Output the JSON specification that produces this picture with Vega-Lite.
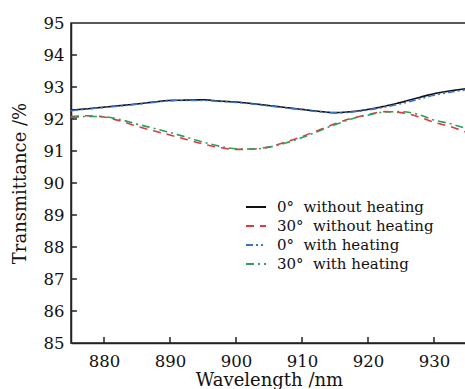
{
  "$schema": "https://vega.github.io/schema/vega-lite/v6.json",
  "width": 396,
  "height": 320,
  "autosize": "none",
  "padding": {"left": 71, "top": 23, "right": 0, "bottom": 46},
  "background": "white",
  "config": {
    "view": {"stroke": "#222", "strokeWidth": 1.5},
    "font": "DejaVu Serif",
    "axis": {"grid": false, "ticks": false, "domainColor": "#222", "domainWidth": 1.5, "labelColor": "#111", "titleColor": "#111", "labelFont": "DejaVu Serif", "titleFont": "DejaVu Serif", "labelFontSize": 16.5, "titleFontSize": 18, "titleFontWeight": "normal"}
  },
  "datasets": {
    "xticks": [{"v": 880}, {"v": 890}, {"v": 900}, {"v": 910}, {"v": 920}, {"v": 930}],
    "yticks": [{"v": 86}, {"v": 87}, {"v": 88}, {"v": 89}, {"v": 90}, {"v": 91}, {"v": 92}, {"v": 93}, {"v": 94}],
    "spec": [
      {"wl": 875, "t": 92.28, "s": "0°\u00a0\u00a0without heating"},
      {"wl": 877.5, "t": 92.32, "s": "0°\u00a0\u00a0without heating"},
      {"wl": 880, "t": 92.37, "s": "0°\u00a0\u00a0without heating"},
      {"wl": 882.5, "t": 92.42, "s": "0°\u00a0\u00a0without heating"},
      {"wl": 885, "t": 92.47, "s": "0°\u00a0\u00a0without heating"},
      {"wl": 887.5, "t": 92.53, "s": "0°\u00a0\u00a0without heating"},
      {"wl": 890, "t": 92.58, "s": "0°\u00a0\u00a0without heating"},
      {"wl": 892.5, "t": 92.59, "s": "0°\u00a0\u00a0without heating"},
      {"wl": 895, "t": 92.6, "s": "0°\u00a0\u00a0without heating"},
      {"wl": 897.5, "t": 92.56, "s": "0°\u00a0\u00a0without heating"},
      {"wl": 900, "t": 92.53, "s": "0°\u00a0\u00a0without heating"},
      {"wl": 902.5, "t": 92.48, "s": "0°\u00a0\u00a0without heating"},
      {"wl": 905, "t": 92.42, "s": "0°\u00a0\u00a0without heating"},
      {"wl": 907.5, "t": 92.36, "s": "0°\u00a0\u00a0without heating"},
      {"wl": 910, "t": 92.3, "s": "0°\u00a0\u00a0without heating"},
      {"wl": 912.5, "t": 92.24, "s": "0°\u00a0\u00a0without heating"},
      {"wl": 915, "t": 92.2, "s": "0°\u00a0\u00a0without heating"},
      {"wl": 917.5, "t": 92.23, "s": "0°\u00a0\u00a0without heating"},
      {"wl": 920, "t": 92.3, "s": "0°\u00a0\u00a0without heating"},
      {"wl": 922.5, "t": 92.4, "s": "0°\u00a0\u00a0without heating"},
      {"wl": 925, "t": 92.52, "s": "0°\u00a0\u00a0without heating"},
      {"wl": 927.5, "t": 92.66, "s": "0°\u00a0\u00a0without heating"},
      {"wl": 930, "t": 92.79, "s": "0°\u00a0\u00a0without heating"},
      {"wl": 932.5, "t": 92.88, "s": "0°\u00a0\u00a0without heating"},
      {"wl": 935, "t": 92.95, "s": "0°\u00a0\u00a0without heating"},

      {"wl": 875, "t": 92.08, "s": "30°\u00a0\u00a0without heating"},
      {"wl": 877.5, "t": 92.1, "s": "30°\u00a0\u00a0without heating"},
      {"wl": 880, "t": 92.06, "s": "30°\u00a0\u00a0without heating"},
      {"wl": 882.5, "t": 91.94, "s": "30°\u00a0\u00a0without heating"},
      {"wl": 885, "t": 91.77, "s": "30°\u00a0\u00a0without heating"},
      {"wl": 887.5, "t": 91.63, "s": "30°\u00a0\u00a0without heating"},
      {"wl": 890, "t": 91.5, "s": "30°\u00a0\u00a0without heating"},
      {"wl": 892.5, "t": 91.36, "s": "30°\u00a0\u00a0without heating"},
      {"wl": 895, "t": 91.22, "s": "30°\u00a0\u00a0without heating"},
      {"wl": 897.5, "t": 91.11, "s": "30°\u00a0\u00a0without heating"},
      {"wl": 900, "t": 91.05, "s": "30°\u00a0\u00a0without heating"},
      {"wl": 902.5, "t": 91.06, "s": "30°\u00a0\u00a0without heating"},
      {"wl": 905, "t": 91.13, "s": "30°\u00a0\u00a0without heating"},
      {"wl": 907.5, "t": 91.28, "s": "30°\u00a0\u00a0without heating"},
      {"wl": 910, "t": 91.45, "s": "30°\u00a0\u00a0without heating"},
      {"wl": 912.5, "t": 91.65, "s": "30°\u00a0\u00a0without heating"},
      {"wl": 915, "t": 91.85, "s": "30°\u00a0\u00a0without heating"},
      {"wl": 917.5, "t": 92.02, "s": "30°\u00a0\u00a0without heating"},
      {"wl": 920, "t": 92.14, "s": "30°\u00a0\u00a0without heating"},
      {"wl": 922.5, "t": 92.23, "s": "30°\u00a0\u00a0without heating"},
      {"wl": 925, "t": 92.2, "s": "30°\u00a0\u00a0without heating"},
      {"wl": 927.5, "t": 92.08, "s": "30°\u00a0\u00a0without heating"},
      {"wl": 930, "t": 91.9, "s": "30°\u00a0\u00a0without heating"},
      {"wl": 932.5, "t": 91.76, "s": "30°\u00a0\u00a0without heating"},
      {"wl": 935, "t": 91.58, "s": "30°\u00a0\u00a0without heating"},

      {"wl": 875, "t": 92.26, "s": "0°\u00a0\u00a0with heating"},
      {"wl": 877.5, "t": 92.31, "s": "0°\u00a0\u00a0with heating"},
      {"wl": 880, "t": 92.36, "s": "0°\u00a0\u00a0with heating"},
      {"wl": 882.5, "t": 92.41, "s": "0°\u00a0\u00a0with heating"},
      {"wl": 885, "t": 92.46, "s": "0°\u00a0\u00a0with heating"},
      {"wl": 887.5, "t": 92.52, "s": "0°\u00a0\u00a0with heating"},
      {"wl": 890, "t": 92.57, "s": "0°\u00a0\u00a0with heating"},
      {"wl": 892.5, "t": 92.58, "s": "0°\u00a0\u00a0with heating"},
      {"wl": 895, "t": 92.58, "s": "0°\u00a0\u00a0with heating"},
      {"wl": 897.5, "t": 92.55, "s": "0°\u00a0\u00a0with heating"},
      {"wl": 900, "t": 92.52, "s": "0°\u00a0\u00a0with heating"},
      {"wl": 902.5, "t": 92.47, "s": "0°\u00a0\u00a0with heating"},
      {"wl": 905, "t": 92.41, "s": "0°\u00a0\u00a0with heating"},
      {"wl": 907.5, "t": 92.35, "s": "0°\u00a0\u00a0with heating"},
      {"wl": 910, "t": 92.29, "s": "0°\u00a0\u00a0with heating"},
      {"wl": 912.5, "t": 92.23, "s": "0°\u00a0\u00a0with heating"},
      {"wl": 915, "t": 92.19, "s": "0°\u00a0\u00a0with heating"},
      {"wl": 917.5, "t": 92.22, "s": "0°\u00a0\u00a0with heating"},
      {"wl": 920, "t": 92.28, "s": "0°\u00a0\u00a0with heating"},
      {"wl": 922.5, "t": 92.37, "s": "0°\u00a0\u00a0with heating"},
      {"wl": 925, "t": 92.48, "s": "0°\u00a0\u00a0with heating"},
      {"wl": 927.5, "t": 92.61, "s": "0°\u00a0\u00a0with heating"},
      {"wl": 930, "t": 92.74, "s": "0°\u00a0\u00a0with heating"},
      {"wl": 932.5, "t": 92.84, "s": "0°\u00a0\u00a0with heating"},
      {"wl": 935, "t": 92.91, "s": "0°\u00a0\u00a0with heating"},

      {"wl": 875, "t": 92.04, "s": "30°\u00a0\u00a0with heating"},
      {"wl": 877.5, "t": 92.08, "s": "30°\u00a0\u00a0with heating"},
      {"wl": 880, "t": 92.07, "s": "30°\u00a0\u00a0with heating"},
      {"wl": 882.5, "t": 91.98, "s": "30°\u00a0\u00a0with heating"},
      {"wl": 885, "t": 91.84, "s": "30°\u00a0\u00a0with heating"},
      {"wl": 887.5, "t": 91.71, "s": "30°\u00a0\u00a0with heating"},
      {"wl": 890, "t": 91.58, "s": "30°\u00a0\u00a0with heating"},
      {"wl": 892.5, "t": 91.43, "s": "30°\u00a0\u00a0with heating"},
      {"wl": 895, "t": 91.28, "s": "30°\u00a0\u00a0with heating"},
      {"wl": 897.5, "t": 91.15, "s": "30°\u00a0\u00a0with heating"},
      {"wl": 900, "t": 91.07, "s": "30°\u00a0\u00a0with heating"},
      {"wl": 902.5, "t": 91.06, "s": "30°\u00a0\u00a0with heating"},
      {"wl": 905, "t": 91.12, "s": "30°\u00a0\u00a0with heating"},
      {"wl": 907.5, "t": 91.25, "s": "30°\u00a0\u00a0with heating"},
      {"wl": 910, "t": 91.42, "s": "30°\u00a0\u00a0with heating"},
      {"wl": 912.5, "t": 91.62, "s": "30°\u00a0\u00a0with heating"},
      {"wl": 915, "t": 91.82, "s": "30°\u00a0\u00a0with heating"},
      {"wl": 917.5, "t": 92.0, "s": "30°\u00a0\u00a0with heating"},
      {"wl": 920, "t": 92.12, "s": "30°\u00a0\u00a0with heating"},
      {"wl": 922.5, "t": 92.22, "s": "30°\u00a0\u00a0with heating"},
      {"wl": 925, "t": 92.23, "s": "30°\u00a0\u00a0with heating"},
      {"wl": 927.5, "t": 92.15, "s": "30°\u00a0\u00a0with heating"},
      {"wl": 930, "t": 91.97, "s": "30°\u00a0\u00a0with heating"},
      {"wl": 932.5, "t": 91.85, "s": "30°\u00a0\u00a0with heating"},
      {"wl": 935, "t": 91.7, "s": "30°\u00a0\u00a0with heating"}
    ]
  },
  "layer": [
    {
      "data": {"name": "spec"},
      "mark": {"type": "line", "strokeWidth": 1.6, "interpolate": "monotone", "clip": true},
      "encoding": {
        "x": {"field": "wl", "type": "quantitative", "title": "Wavelength /nm",
          "scale": {"domain": [875, 935], "nice": false, "zero": false},
          "axis": {"values": [880, 890, 900, 910, 920, 930], "labelPadding": 10, "titlePadding": 2, "format": "d"}},
        "y": {"field": "t", "type": "quantitative", "title": "Transmittance /%",
          "scale": {"domain": [85, 95], "nice": false, "zero": false},
          "axis": {"values": [85, 86, 87, 88, 89, 90, 91, 92, 93, 94, 95], "labelPadding": 7, "titlePadding": 14, "format": "d"}},
        "color": {"field": "s", "type": "nominal", "title": null,
          "scale": {"domain": ["0°\u00a0\u00a0without heating", "30°\u00a0\u00a0without heating", "0°\u00a0\u00a0with heating", "30°\u00a0\u00a0with heating"],
            "range": ["#111111", "#e0393e", "#3b73c8", "#2e9e5e"]},
          "legend": {"orient": "none", "legendX": 174, "legendY": 173, "symbolType": "stroke", "symbolSize": 400, "symbolStrokeWidth": 1.8, "labelFont": "DejaVu Serif", "labelFontSize": 15, "labelColor": "#111", "labelOffset": 10, "rowPadding": 0, "padding": 0}},
        "strokeDash": {"field": "s", "type": "nominal",
          "scale": {"domain": ["0°\u00a0\u00a0without heating", "30°\u00a0\u00a0without heating", "0°\u00a0\u00a0with heating", "30°\u00a0\u00a0with heating"],
            "range": [[1, 0], [8, 6], [7, 3, 2, 3, 2, 3], [8, 4, 2, 4]]},
          "legend": null}
      }
    },
    {
      "data": {"name": "xticks"},
      "mark": {"type": "rule", "color": "#222", "strokeWidth": 1.5},
      "encoding": {
        "x": {"field": "v", "type": "quantitative", "title": "Wavelength /nm",
          "axis": {"values": [880, 890, 900, 910, 920, 930], "labelPadding": 10, "titlePadding": 2, "format": "d"}},
        "y": {"datum": 85, "type": "quantitative", "title": "Transmittance /%",
          "axis": {"values": [85, 86, 87, 88, 89, 90, 91, 92, 93, 94, 95], "labelPadding": 7, "titlePadding": 14, "format": "d"}},
        "y2": {"datum": 85.19}
      }
    },
    {
      "data": {"name": "yticks"},
      "mark": {"type": "rule", "color": "#222", "strokeWidth": 1.5},
      "encoding": {
        "y": {"field": "v", "type": "quantitative", "title": "Transmittance /%",
          "axis": {"values": [85, 86, 87, 88, 89, 90, 91, 92, 93, 94, 95], "labelPadding": 7, "titlePadding": 14, "format": "d"}},
        "x": {"datum": 875, "type": "quantitative", "title": "Wavelength /nm",
          "axis": {"values": [880, 890, 900, 910, 920, 930], "labelPadding": 10, "titlePadding": 2, "format": "d"}},
        "x2": {"datum": 875.9}
      }
    }
  ]
}
